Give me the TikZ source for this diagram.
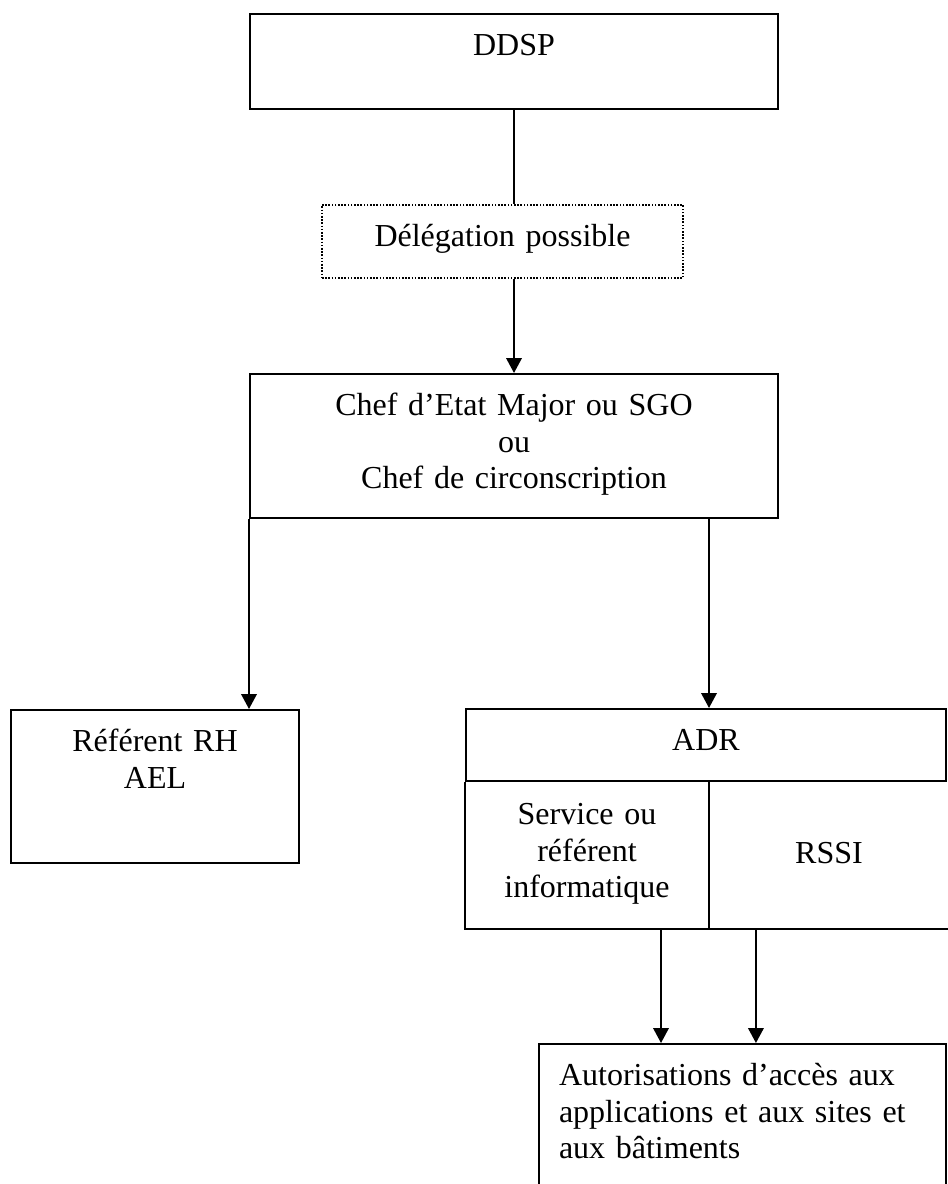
\documentclass[tikz,border=0pt]{standalone}
\usepackage{fontspec}
\setmainfont{Liberation Serif}[WordSpace=0.55]
\usetikzlibrary{arrows.meta,positioning}

\begin{document}
\begin{tikzpicture}[x=0.375pt,y=-0.375pt,>={Triangle[length=5.6pt,width=5.8pt]},
        line width=0.75pt,font=\fontsize{12}{13.8}\selectfont]
        \tikzset{block/.style= {draw, rectangle, inner sep=0pt, align=center, text height=15.5pt},
        cell/.style= {block, draw=none},
        dblock/.style= {block, dash pattern=on 0.6pt off 0.6pt, line width=0.6pt},
        lblock/.style= {draw, rectangle, inner ysep=0pt, inner xsep=7.5pt, align=left, text height=15.5pt},
        }
        \useasboundingbox (0,0) rectangle (947,1184);

        \node [block, anchor=north, text width=198pt, text depth=20.1pt] (ddsp) at (514,13) {DDSP};
        \node [dblock, anchor=north, text width=135.4pt, text depth=11.9pt] (deleg) at (502.5,204) {Délégation possible};
        \node [block, anchor=north, text width=198pt, text depth=38.5pt] (chef) at (514,373)
              {Chef d’Etat Major ou SGO\\ou\\Chef de circonscription};
        \node [block, anchor=north west, text width=108pt, text depth=41.9pt] (ref) at (10,709) {Référent RH\\AEL};
        \node [block, anchor=north west, text width=180pt, text depth=11.5pt] (adr) at (465,708) {ADR};
        \node [cell, anchor=north west, text width=90.75pt, text depth=38.9pt] (svc) at (adr.south west)
              {Service ou\\référent\\informatique};
        \node [cell, anchor=north west, text width=89.25pt, text height=30pt, text depth=24.4pt] (rssi) at (svc.north east) {RSSI};
        \node [lblock, anchor=north west, text width=137.6pt, text depth=43.4pt] (auth) at (538,1043)
              {Autorisations d’accès aux\\applications et aux sites et\\aux bâtiments};

        \coordinate (svc_out) at ([xshift=-18pt]svc.south east);
        \coordinate (rssi_out) at ([xshift=17.6pt]rssi.south west);

        % cells under ADR
        \draw (svc.north west) -- (svc.south west) -- (rssi.south east) -- (rssi.north east);
        \draw (svc.north east) -- (svc.south east);

%% paths
        \draw (ddsp.south) -- (ddsp.south |- deleg.north);
        \path[draw,->] (deleg.south -| chef.north) edge (chef.north)
                    (chef.south west) edge (chef.south west |- ref.north)
                    (chef.south -| svc.east) edge (adr.north -| svc.east)
                    (svc_out) edge (svc_out |- auth.north)
                    (rssi_out) -- (rssi_out |- auth.north)
                    ;
\end{tikzpicture}
\end{document}
